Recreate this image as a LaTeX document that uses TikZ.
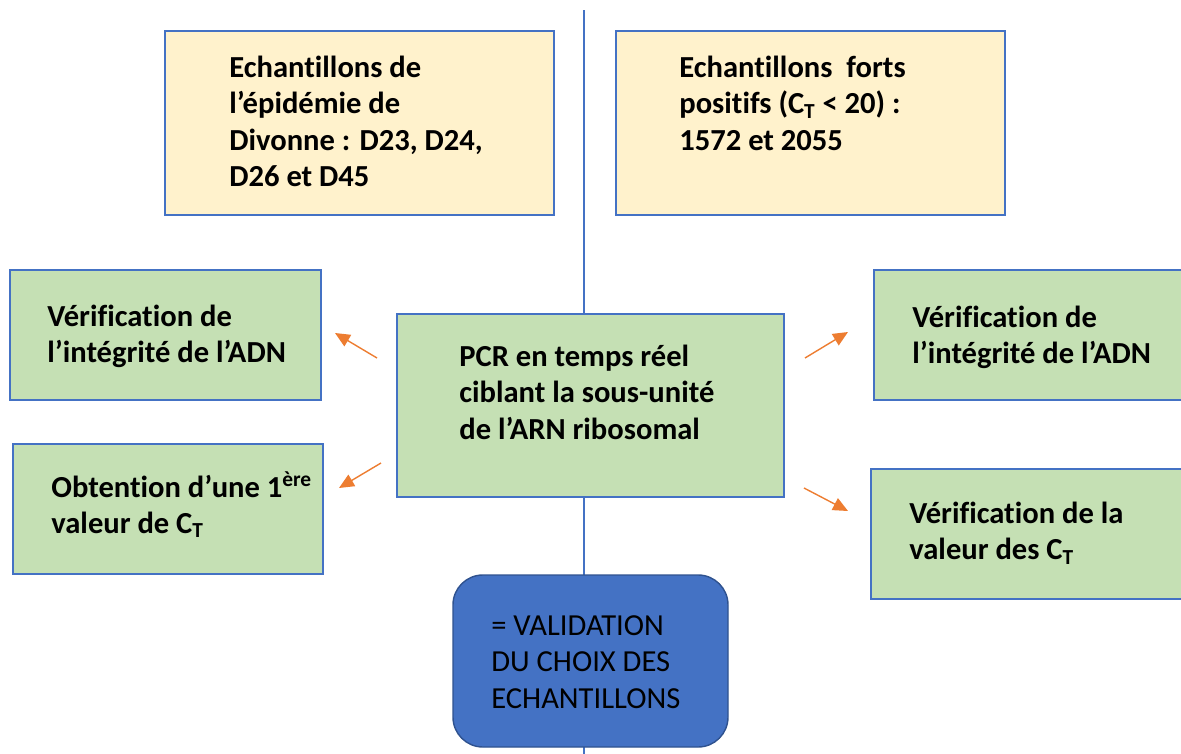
\documentclass[tikz,border=0pt]{standalone}
\usepackage{fontspec}
\setmainfont{Carlito}[Ligatures=NoCommon]
\usetikzlibrary{arrows.meta,fit}

\definecolor{jaune}{RGB}{255,242,204}
\definecolor{vert}{RGB}{197,224,180}
\definecolor{bleu}{RGB}{68,114,196}
\definecolor{bleufonce}{RGB}{47,82,143}
\definecolor{orangefleche}{RGB}{237,125,49}

\tikzset{
  boite/.style={draw=bleu, line width=0.8pt, inner sep=0pt},
  jaunebox/.style={boite, fill=jaune},
  vertbox/.style={boite, fill=vert},
  texte/.style={anchor=north west, align=left, inner sep=0pt,
    font=\fontsize{17.4}{20.6}\selectfont\bfseries},
  fleche/.style={draw=orangefleche, line width=0.8pt,
    -{Triangle[length=8.5pt,width=7.5pt]}},
}

\begin{document}
\begin{tikzpicture}[x=0.02cm, y=-0.02cm]
    \useasboundingbox (0,0) rectangle (1181,754);

    % axe vertical
    \coordinate (axe-haut) at (584,10);
    \coordinate (axe-bas) at (584,754);
    \draw[bleu, line width=0.8pt] (axe-haut) -- (axe-bas);

    % echantillons
    \node[jaunebox, fit={(165,31) (554,215)}] (ech1) {};
    \node[texte] (ech1-t) at (229,52) {\strut Echantillons de\\ l’épidémie de\\ Divonne : D23, D24,\\ D26 et D45};

    \node[jaunebox, fit={(616,31) (1005,215)}] (ech2) {};
    \node[texte] (ech2-t) at (679,52) {\strut Echantillons\ \ forts\\ positifs (C\textsubscript{T} < 20) :\\ 1572 et 2055};

    % PCR
    \node[vertbox, fit={(397,314) (784,497)}] (pcr) {};
    \node[texte] (pcr-t) at (459,341) {\strut PCR en temps réel\\ ciblant la sous-unité\\ de l’ARN ribosomal};

    % resultats a gauche
    \node[vertbox, fit={(10,270) (321,400)}] (verif1) {};
    \node[texte] (verif1-t) at (47,301) {\strut Vérification de\\ l’intégrité de l’ADN};

    \node[vertbox, fit={(13,444) (323,574)}] (obt) {};
    \node[texte] (obt-t) at (51,471) {\strut Obtention d’une 1\textsuperscript{ère}\\ valeur de C\textsubscript{T}};

    % resultats a droite
    \node[vertbox, fit={(874,270) (1195,400)}] (verif2) {};
    \node[texte] (verif2-t) at (912,302) {\strut Vérification de\\ l’intégrité de l’ADN};

    \node[vertbox, fit={(871,469) (1195,599)}] (verif3) {};
    \node[texte] (verif3-t) at (909,498) {\strut Vérification de la\\ valeur des C\textsubscript{T}};

    % conclusion
    \node[fit={(453,575) (728,747)}, inner sep=0pt, rounded corners=17pt,
          draw=bleufonce, line width=0.8pt, fill=bleu] (valid) {};
    \node[texte, font=\fontsize{17.4}{20.6}\selectfont] (valid-t) at (491,610) {\strut = VALIDATION\\ DU CHOIX DES\\ ECHANTILLONS};

    % fleches
    \coordinate (f1-a) at (377,358);  \coordinate (f1-b) at (335,333);
    \coordinate (f2-a) at (381,463);  \coordinate (f2-b) at (339,488);
    \coordinate (f3-a) at (805,358);  \coordinate (f3-b) at (848,332);
    \coordinate (f4-a) at (804,488);  \coordinate (f4-b) at (848,511);
    \draw[fleche] (f1-a) -- (f1-b);
    \draw[fleche] (f2-a) -- (f2-b);
    \draw[fleche] (f3-a) -- (f3-b);
    \draw[fleche] (f4-a) -- (f4-b);

\end{tikzpicture}
\end{document}
